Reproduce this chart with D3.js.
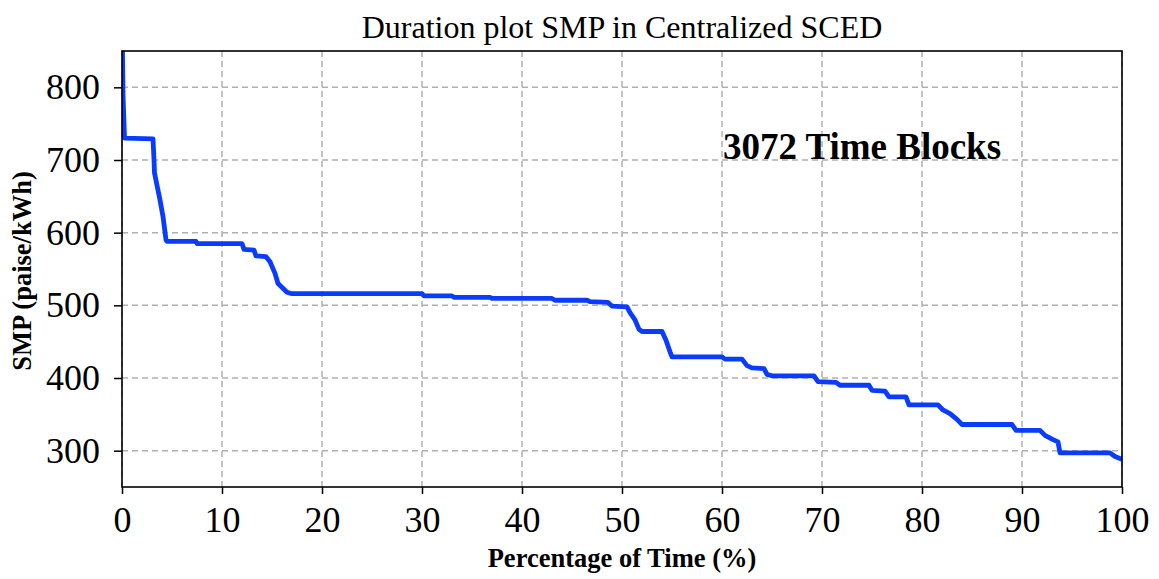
<!DOCTYPE html>
<html>
<head>
<meta charset="utf-8">
<script src="https://cdn.jsdelivr.net/npm/d3@7"></script>
<style>
  html, body { margin: 0; padding: 0; background: #fff; }
  svg { display: block; font-family: "Liberation Serif", "Times New Roman", serif; }
</style>
</head>
<body>
<svg id="chart" width="1159" height="579"></svg>
<script>
// Duration curve of SMP
const pct = [0, 0.1, 0.25, 3.1, 3.2, 3.25, 3.8, 4.1, 4.4, 4.5, 7.4, 7.5, 12.0, 12.2, 13.2, 13.4, 14.4, 14.8,
  15.3, 15.6, 16.5, 17.0, 30.0, 30.2, 33.0, 33.2, 36.8, 37.0, 43.0, 43.3, 46.5, 46.8, 48.6, 49.0, 50.5,
  50.8, 51.3, 51.7, 52.0, 54.0, 54.4, 54.8, 55.0, 60.0, 60.3, 62.0, 62.5, 63.0, 64.2, 64.5, 65.0, 69.2,
  69.6, 71.4, 71.8, 74.7, 75.0, 76.3, 76.7, 78.4, 78.7, 81.6, 82.1, 82.8, 83.5, 84.0, 89.0, 89.4, 91.8,
  92.3, 93.0, 93.6, 93.8, 98.8, 99.3, 100];
const smp = [900, 790, 730, 729, 700, 682, 645, 622, 590, 588, 588, 585, 585, 577, 576, 568, 567, 560,
  544, 530, 518, 516, 516, 513, 513, 511, 511, 509.5, 509.5, 507, 507, 505, 504, 499, 498,
  490, 480, 467, 464, 464, 452, 436, 429, 429, 426, 426, 417, 414, 413, 405, 403, 403,
  395, 394, 390, 390, 383, 382, 374, 374, 363, 363, 356, 351, 343, 336, 336, 328, 328,
  321, 316, 312, 297, 297, 292, 288];

const xTicks = [0, 10, 20, 30, 40, 50, 60, 70, 80, 90, 100];
const yTicks = [300, 400, 500, 600, 700, 800];

const title = "Duration plot SMP in Centralized SCED";
const xTitle = "Percentage of Time (%)";
const yTitle = "SMP (paise/kWh)";
const note = "3072 Time Blocks";

const margin = { top: 51, right: 37, bottom: 92, left: 122 };
const width = 1159, height = 579;
const innerW = width - margin.left - margin.right;
const innerH = height - margin.top - margin.bottom;

const svg = d3.select("#chart");
const g = svg.append("g").attr("transform", `translate(${margin.left},${margin.top})`);

const x = d3.scaleLinear().domain([0, 100]).range([0, innerW]);
const y = d3.scaleLinear().domain([250, 850]).range([innerH, 0]);

// grid
g.append("g")
  .selectAll("line")
  .data(xTicks)
  .join("line")
  .attr("x1", (d) => x(d)).attr("x2", (d) => x(d))
  .attr("y1", 0).attr("y2", innerH)
  .attr("stroke", "#b0b0b0").attr("stroke-width", 1.5).attr("stroke-dasharray", "6,4");
g.append("g")
  .selectAll("line")
  .data(yTicks)
  .join("line")
  .attr("x1", 0).attr("x2", innerW)
  .attr("y1", (d) => y(d)).attr("y2", (d) => y(d))
  .attr("stroke", "#b0b0b0").attr("stroke-width", 1.5).attr("stroke-dasharray", "6,4");

// line
g.append("clipPath").attr("id", "clip")
  .append("rect").attr("width", innerW).attr("height", innerH);

const line = d3.line().x((d) => x(d[0])).y((d) => y(d[1]));
g.append("path")
  .datum(d3.zip(pct, smp))
  .attr("clip-path", "url(#clip)")
  .attr("fill", "none")
  .attr("stroke", "#0a3cff")
  .attr("stroke-width", 4.8)
  .attr("stroke-linejoin", "round")
  .attr("d", line);

// axes
const xAxis = d3.axisBottom(x).tickValues(xTicks).tickSize(7).tickPadding(7).tickSizeOuter(0);
const yAxis = d3.axisLeft(y).tickValues(yTicks).tickSize(8).tickPadding(14).tickSizeOuter(0);

const xAxisG = g.append("g").attr("transform", `translate(0,${innerH})`).call(xAxis);
const yAxisG = g.append("g").call(yAxis);
[xAxisG, yAxisG].forEach((a) => {
  a.select(".domain").remove();
  a.selectAll("line").attr("stroke", "#000").attr("stroke-width", 1.5);
  a.selectAll("text")
    .attr("fill", "#000")
    .attr("font-size", 36)
    .attr("font-family", "Liberation Serif");
});
xAxisG.selectAll("text").attr("dy", "0.85em");

// frame
g.append("rect")
  .attr("width", innerW).attr("height", innerH)
  .attr("fill", "none").attr("stroke", "#000").attr("stroke-width", 1.6);

// labels
svg.append("text")
  .attr("x", margin.left + innerW / 2).attr("y", 38)
  .attr("text-anchor", "middle").attr("font-size", 32)
  .text(title);

svg.append("text")
  .attr("x", margin.left + innerW / 2).attr("y", 567)
  .attr("text-anchor", "middle").attr("font-size", 26.5).attr("font-weight", "bold")
  .text(xTitle);

svg.append("text")
  .attr("transform", `translate(31,${margin.top + innerH / 2 + 2}) rotate(-90)`)
  .attr("text-anchor", "middle").attr("font-size", 26.5).attr("font-weight", "bold")
  .text(yTitle);

g.append("text")
  .attr("x", x(74)).attr("y", y(701))
  .attr("text-anchor", "middle").attr("font-size", 37).attr("font-weight", "bold")
  .text(note);
</script>
</body>
</html>
